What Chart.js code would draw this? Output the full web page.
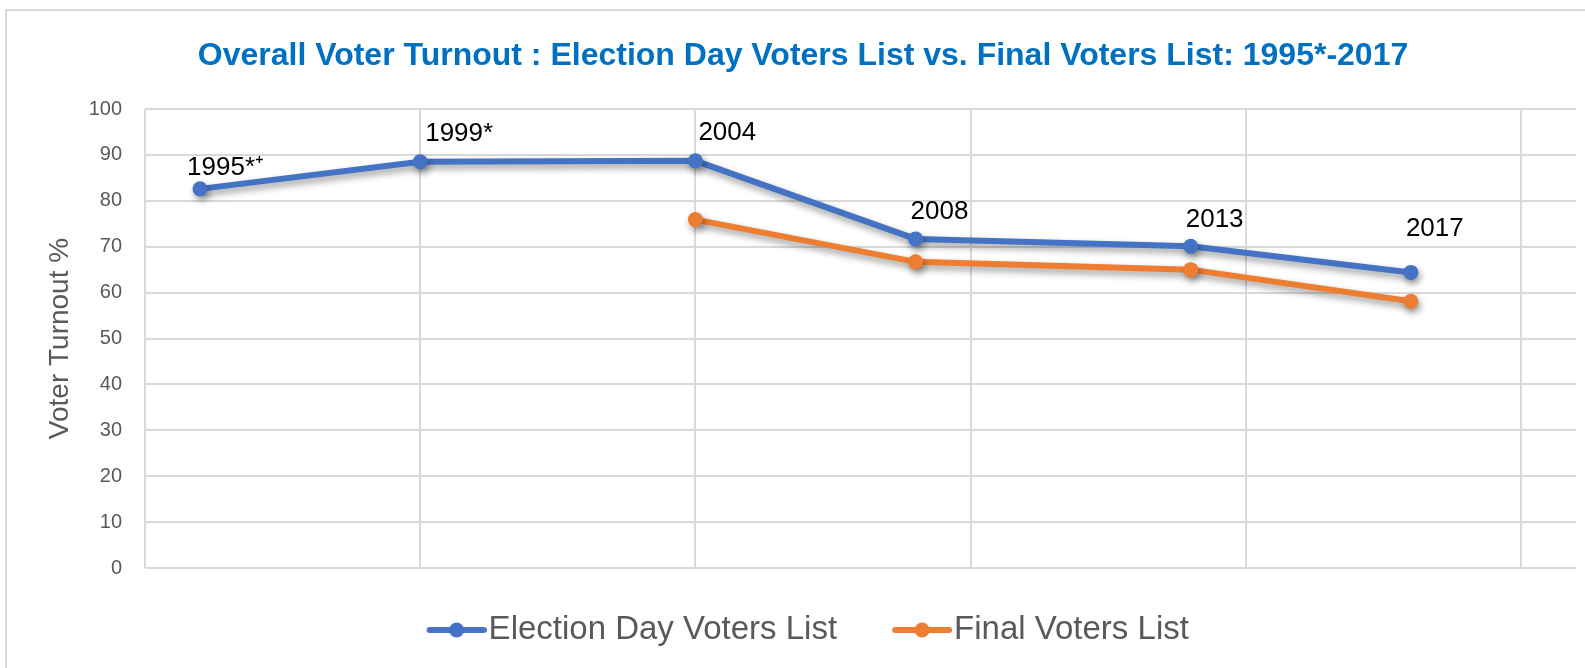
<!DOCTYPE html>
<html>
<head>
<meta charset="utf-8">
<script src="https://cdn.jsdelivr.net/npm/chart.js@4.4.1/dist/chart.umd.min.js"></script>
<style>
  html, body { margin: 0; padding: 0; background: #fff; }
  #wrap { width: 1585px; height: 668px; }
</style>
</head>
<body>
<div id="wrap"><canvas id="myChart" width="1585" height="668"></canvas></div>
<script>
// values
const years = [1995, 1999, 2004, 2008, 2013, 2017];
const electionDay = [82.6, 88.5, 88.7, 71.7, 70.1, 64.4];
const finalList = [null, null, 75.9, 66.7, 65.0, 58.1];
const pointLabels = ['1995*\u207A', '1999*', '2004', '2008', '2013', '2017'];
const gridYears = [1994, 1999, 2004, 2009, 2014, 2019];
const seriesNames = ['Election Day Voters List', 'Final Voters List'];

const blue = '#4472C4';
const orange = '#ED7D31';
const grey = '#595959';
const gridColor = '#d9d9d9';

// where each year label sits relative to its point (dx, dy)
const labelOffsets = [[-13, -21], [5, -28], [3, -28], [-5, -27], [-5, -26], [-5, -44]];

// legend marker: a line with a dot, drawn off-centre so it hugs the text
function legendMarker(color) {
    const c = document.createElement('canvas');
    c.width = 84;
    c.height = 20;
    const g = c.getContext('2d');
    g.strokeStyle = color;
    g.lineWidth = 6;
    g.lineCap = 'round';
    g.beginPath();
    g.moveTo(27, 10);
    g.lineTo(81, 10);
    g.stroke();
    g.fillStyle = color;
    g.beginPath();
    g.arc(54, 10, 7.5, 0, Math.PI * 2);
    g.fill();
    return c;
}
const markers = [legendMarker(blue), legendMarker(orange)];

const frame = {
    id: 'frame',
    beforeDraw(chart) {
        const ctx = chart.ctx;
        ctx.save();
        ctx.fillStyle = '#fff';
        ctx.fillRect(0, 0, chart.width, chart.height);
        ctx.strokeStyle = gridColor;
        ctx.lineWidth = 2;
        ctx.strokeRect(6, 10, chart.width + 20, chart.height + 20);
        ctx.restore();
    }
};

const shadowAndLabels = {
    id: 'shadowAndLabels',
    beforeDatasetsDraw(chart) {
        const ctx = chart.ctx;
        ctx.save();
        ctx.shadowColor = 'rgba(0,0,0,0.4)';
        ctx.shadowBlur = 7;
        ctx.shadowOffsetX = 2;
        ctx.shadowOffsetY = 4;
    },
    afterDatasetsDraw(chart) {
        const ctx = chart.ctx;
        ctx.restore();
        const meta = chart.getDatasetMeta(0);
        ctx.save();
        ctx.font = '26px "Liberation Sans", Arial, sans-serif';
        ctx.fillStyle = '#000';
        ctx.textAlign = 'left';
        ctx.textBaseline = 'middle';
        meta.data.forEach((pt, i) => {
            const off = labelOffsets[i];
            ctx.fillText(pointLabels[i], pt.x + off[0], pt.y + off[1]);
        });
        ctx.restore();
    }
};

const ctx = document.getElementById('myChart');

new Chart(ctx, {
    type: 'line',
    data: {
        datasets: [{
            label: seriesNames[0],
            data: years.map((x, i) => ({ x: x, y: electionDay[i] })),
            borderColor: blue,
            backgroundColor: blue,
            borderWidth: 6,
            pointRadius: 7.5,
            pointBorderWidth: 0,
            pointBackgroundColor: blue
        }, {
            label: seriesNames[1],
            data: years.map((x, i) => ({ x: x, y: finalList[i] })),
            borderColor: orange,
            backgroundColor: orange,
            borderWidth: 6,
            pointRadius: 7.5,
            pointBorderWidth: 0,
            pointBackgroundColor: orange
        }]
    },
    options: {
        responsive: false,
        animation: false,
        devicePixelRatio: 1,
        layout: { padding: { left: 30, right: 9, top: 0, bottom: 11.5 } },
        plugins: {
            title: {
                display: true,
                text: 'Overall Voter Turnout : Election Day Voters List vs. Final Voters List: 1995*-2017',
                color: '#0070C0',
                font: { family: '"Liberation Sans", Arial, sans-serif', size: 32, weight: 'bold' },
                padding: { top: 37, bottom: 33.6 }
            },
            legend: {
                position: 'bottom',
                labels: {
                    usePointStyle: true,
                    pointStyleWidth: 55,
                    padding: 45.5,
                    color: grey,
                    font: { family: '"Liberation Sans", Arial, sans-serif', size: 33 },
                    generateLabels(chart) {
                        const items = Chart.defaults.plugins.legend.labels.generateLabels(chart);
                        return items.map((item, i) => Object.assign(item, { pointStyle: markers[i] }));
                    }
                }
            },
            tooltip: { enabled: false }
        },
        scales: {
            x: {
                type: 'linear',
                min: 1994,
                max: 2020,
                afterBuildTicks(scale) {
                    scale.ticks = gridYears.map(v => ({ value: v }));
                },
                afterFit(scale) {
                    scale.height = 0;
                },
                ticks: { display: false },
                grid: { color: gridColor, lineWidth: 2, drawTicks: false },
                border: { display: false }
            },
            y: {
                min: 0,
                max: 100,
                afterFit(scale) {
                    scale.width = 115;
                },
                ticks: {
                    stepSize: 10,
                    padding: 23,
                    color: grey,
                    font: { family: '"Liberation Sans", Arial, sans-serif', size: 20 }
                },
                grid: { color: gridColor, lineWidth: 2, drawTicks: false },
                border: { display: false },
                title: {
                    display: true,
                    text: 'Voter Turnout %',
                    color: grey,
                    font: { family: '"Liberation Sans", Arial, sans-serif', size: 28 },
                    padding: { top: 13, bottom: 0 }
                }
            }
        }
    },
    plugins: [frame, shadowAndLabels]
});
</script>
</body>
</html>
